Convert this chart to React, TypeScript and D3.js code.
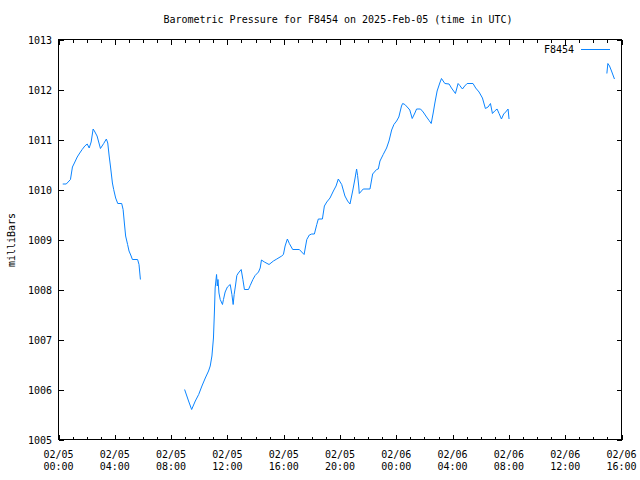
import React from "react";
import * as d3 from "d3";

// hours after 2025-02-05 00:00 UTC; null pressure marks a gap in the record
const hours: number[] = [
  0.30, 0.55, 0.85, 0.99, 1.13, 1.33, 1.51, 1.68, 1.87, 2.04, 2.18, 2.32, 2.46, 2.55, 2.74, 2.98,
  3.21, 3.40, 3.50, 3.60, 3.69, 3.83, 3.92, 4.06, 4.21, 4.49, 4.59, 4.68, 4.77, 4.91, 5.01, 5.16,
  5.25, 5.62, 5.72, 5.82,
  7.0,
  8.96, 9.24, 9.46, 9.72, 9.96, 10.19, 10.43, 10.66, 10.78, 10.90, 11.01, 11.08, 11.13, 11.23,
  11.28, 11.33, 11.40, 11.49, 11.65, 11.72, 11.84, 12.00, 12.20, 12.32, 12.41, 12.48, 12.57,
  12.67, 12.78, 12.98, 13.10, 13.21, 13.50, 13.62, 13.81, 13.97, 14.21, 14.33, 14.42, 14.63,
  14.96, 15.27, 15.51, 15.86, 15.98, 16.10, 16.26, 16.40, 16.64, 17.11, 17.28, 17.45, 17.64,
  17.82, 17.99, 18.18, 18.35, 18.46, 18.75, 18.89, 19.06, 19.29, 19.53, 19.72, 19.88, 20.12,
  20.35, 20.54, 20.71, 20.90, 21.06, 21.18, 21.25, 21.33, 21.37, 21.65, 22.13, 22.32, 22.60,
  22.72, 22.84, 23.07, 23.31, 23.48, 23.55, 23.67, 23.83, 24.02, 24.18, 24.37, 24.45, 24.61,
  24.84, 24.96, 25.13, 25.32, 25.44, 25.72, 25.91, 26.15, 26.33, 26.48, 26.62, 26.74, 26.90,
  27.09, 27.21, 27.45, 27.75, 27.92, 28.20, 28.39, 28.51, 28.70, 28.86, 29.03, 29.45, 29.64,
  29.88, 30.12, 30.33, 30.52, 30.69, 30.83, 30.99, 31.16, 31.30, 31.47, 31.63, 31.77, 31.94,
  32.01,
  35.0,
  38.96, 39.03, 39.15, 39.29, 39.50,
];

const pressure: (number | null)[] = [
  1010.11, 1010.11, 1010.2, 1010.45, 1010.53, 1010.65, 1010.73, 1010.8, 1010.87, 1010.91, 1010.83,
  1010.95, 1011.21, 1011.17, 1011.07, 1010.82, 1010.92, 1011.01, 1010.93, 1010.67, 1010.47,
  1010.13, 1010.0, 1009.83, 1009.72, 1009.72, 1009.6, 1009.33, 1009.07, 1008.9, 1008.77,
  1008.67, 1008.6, 1008.6, 1008.5, 1008.2,
  null,
  1006.0, 1005.77, 1005.6, 1005.77, 1005.9, 1006.07, 1006.23, 1006.37, 1006.47, 1006.67,
  1007.03, 1007.57, 1008.03, 1008.3, 1008.07, 1008.2, 1007.93, 1007.8, 1007.7, 1007.8,
  1007.95, 1008.05, 1008.1, 1007.9, 1007.7, 1007.9, 1008.07, 1008.28, 1008.33, 1008.4,
  1008.2, 1008.0, 1008.0, 1008.08, 1008.2, 1008.28, 1008.35, 1008.43, 1008.59, 1008.55,
  1008.5, 1008.57, 1008.61, 1008.67, 1008.7, 1008.87, 1009.01, 1008.92, 1008.8,
  1008.8, 1008.75, 1008.7, 1009.0, 1009.09, 1009.11, 1009.11, 1009.3, 1009.41, 1009.41,
  1009.67, 1009.75, 1009.83, 1009.97, 1010.07, 1010.21, 1010.1, 1009.87, 1009.77, 1009.71,
  1009.97, 1010.21, 1010.41, 1010.28, 1010.07, 1009.92, 1010.01, 1010.01, 1010.31, 1010.4,
  1010.41, 1010.57, 1010.7, 1010.83, 1010.97, 1011.05, 1011.19, 1011.3, 1011.37, 1011.45,
  1011.67, 1011.72, 1011.7, 1011.63, 1011.59, 1011.42, 1011.53, 1011.61, 1011.61, 1011.55,
  1011.45, 1011.38, 1011.32, 1011.53, 1011.73, 1011.97, 1012.13, 1012.22, 1012.12, 1012.11,
  1012.03, 1011.92, 1012.12, 1012.08, 1012.01, 1012.07, 1012.12, 1012.12, 1012.03, 1011.95,
  1011.83, 1011.62, 1011.65, 1011.72, 1011.52, 1011.57, 1011.61, 1011.52, 1011.41, 1011.51,
  1011.55, 1011.61, 1011.41,
  null,
  1012.32, 1012.52, 1012.47, 1012.37, 1012.21,
];

const yTicks: number[] = [1005, 1006, 1007, 1008, 1009, 1010, 1011, 1012, 1013];
const xMajorHours: number[] = [0, 4, 8, 12, 16, 20, 24, 28, 32, 36, 40];
const xTickDates: string[] = ["02/05", "02/05", "02/05", "02/05", "02/05", "02/05", "02/06", "02/06", "02/06", "02/06", "02/06"];
const xTickTimes: string[] = ["00:00", "04:00", "08:00", "12:00", "16:00", "20:00", "00:00", "04:00", "08:00", "12:00", "16:00"];

const title = "Barometric Pressure for F8454 on 2025-Feb-05 (time in UTC)";
const yLabel = "milliBars";
const seriesName = "F8454";

const W = 640;
const H = 480;
const L = 58.5;
const R = 621.5;
const T = 39.5;
const B = 439.5;
const FONT = "'DejaVu Sans Mono', monospace";
const COLOR = "#0a84ff";

export default function App() {
  const x = d3.scaleLinear().domain([0, 40]).range([L, R]);
  const y = d3.scaleLinear().domain([1005, 1013]).range([B, T]);
  const n = Math.min(hours.length, pressure.length);
  const pts = d3.range(n).map((i) => ({ h: hours[i], v: pressure[i] }));
  const line = d3
    .line<{ h: number; v: number | null }>()
    .defined((d) => d.v !== null)
    .x((d) => x(d.h))
    .y((d) => y(d.v as number));
  const minorHours = d3.range(0, 41, 1).filter((h) => h % 4 !== 0);
  const majorLen = 5;
  const minorLen = 3;

  return (
    <svg width={W} height={H} style={{ position: "absolute", left: 0, top: 0, background: "#fff" }} fontFamily={FONT} fontSize={10}>
      <rect x={0} y={0} width={W} height={H} fill="#fff" />
      <text x={338} y={23} textAnchor="middle" fill="#000">{title}</text>
      <text transform={`translate(15,240) rotate(-90)`} textAnchor="middle" fill="#000">{yLabel}</text>
      <g stroke="#000" strokeWidth={1} shapeRendering="crispEdges">
        <rect x={L} y={T} width={R - L} height={B - T} fill="none" />
        {yTicks.map((t) => (
          <g key={"y" + t}>
            <line x1={L} x2={L + majorLen} y1={Math.round(y(t)) + 0.5} y2={Math.round(y(t)) + 0.5} />
            <line x1={R} x2={R - majorLen} y1={Math.round(y(t)) + 0.5} y2={Math.round(y(t)) + 0.5} />
          </g>
        ))}
        {xMajorHours.map((h) => (
          <g key={"xm" + h}>
            <line x1={Math.round(x(h)) + 0.5} x2={Math.round(x(h)) + 0.5} y1={B} y2={B - majorLen} />
            <line x1={Math.round(x(h)) + 0.5} x2={Math.round(x(h)) + 0.5} y1={T} y2={T + majorLen} />
          </g>
        ))}
        {minorHours.map((h) => (
          <g key={"xn" + h}>
            <line x1={Math.round(x(h)) + 0.5} x2={Math.round(x(h)) + 0.5} y1={B} y2={B - minorLen} />
            <line x1={Math.round(x(h)) + 0.5} x2={Math.round(x(h)) + 0.5} y1={T} y2={T + minorLen} />
          </g>
        ))}
      </g>
      {yTicks.map((t) => (
        <text key={"yl" + t} x={52} y={y(t) + 4} textAnchor="end" fill="#000">{t}</text>
      ))}
      {xMajorHours.map((h, i) => (
        <g key={"xl" + h}>
          <text x={x(h)} y={458} textAnchor="middle" fill="#000">{xTickDates[i]}</text>
          <text x={x(h)} y={470} textAnchor="middle" fill="#000">{xTickTimes[i]}</text>
        </g>
      ))}
      <path d={line(pts) || ""} fill="none" stroke={COLOR} strokeWidth={1} />
      <text x={574} y={53} textAnchor="end" fill="#000">{seriesName}</text>
      <line x1={581} x2={610} y1={49.5} y2={49.5} stroke={COLOR} strokeWidth={1} />
    </svg>
  );
}
